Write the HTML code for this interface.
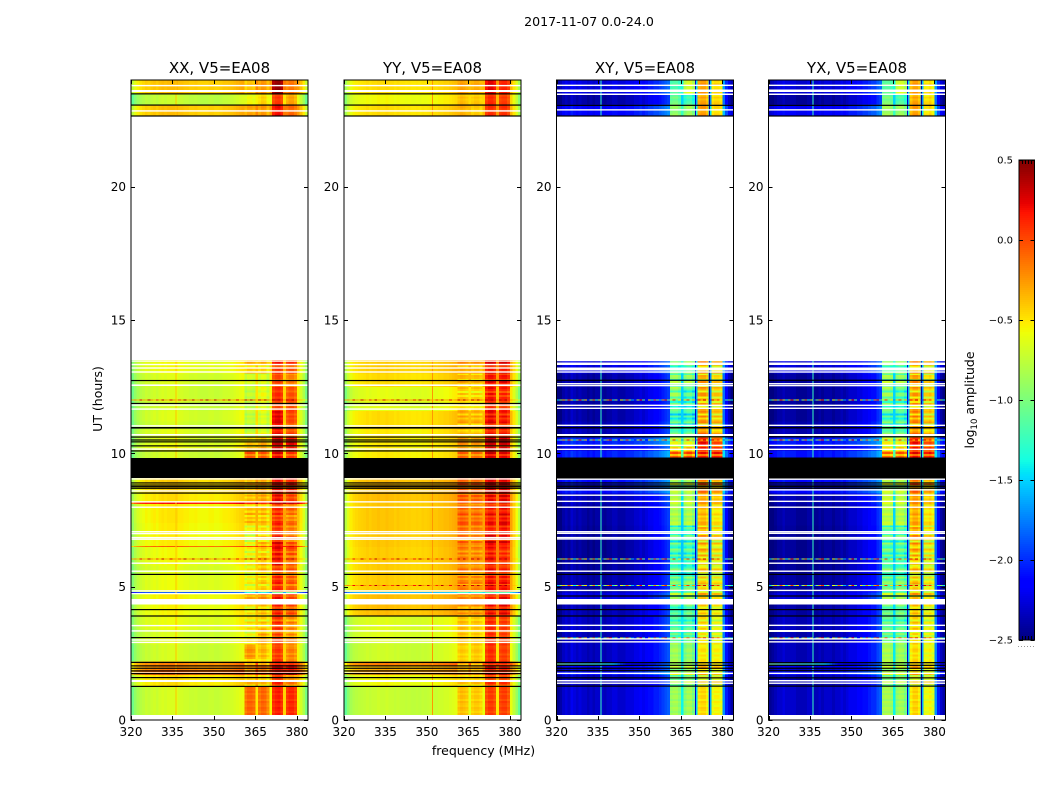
<!DOCTYPE html>
<html>
<head>
<meta charset="utf-8">
<title>2017-11-07 0.0-24.0</title>
<style>
html,body{margin:0;padding:0;background:#fff;}
svg{display:block;}
text{font-family:"DejaVu Sans","Liberation Sans",sans-serif;fill:#000;}
</style>
</head>
<body>
<svg id="chart" width="1050" height="800" viewBox="0 0 1050 800" xmlns="http://www.w3.org/2000/svg">
<rect x="0" y="0" width="1050" height="800" fill="#fff"/>
<text x="589" y="26" font-size="12.6" text-anchor="middle">2017-11-07 0.0-24.0</text>
<text x="483.5" y="755" font-size="12.5" text-anchor="middle">frequency (MHz)</text>
<text transform="translate(102,399) rotate(-90)" font-size="12.5" text-anchor="middle">UT (hours)</text>
<text transform="translate(974,400) rotate(-90)" font-size="12.5" text-anchor="middle">log<tspan dy="3" font-size="8.5">10</tspan><tspan dy="-3"> amplitude</tspan></text>
</svg>
<script>
// Frequency channels (MHz, 1 MHz wide) and axis ticks
const channels = [320,321,322,323,324,325,326,327,328,329,330,331,332,333,334,335,336,337,338,339,340,341,342,343,344,345,346,347,348,349,350,351,352,353,354,355,356,357,358,359,360,361,362,363,364,365,366,367,368,369,370,371,372,373,374,375,376,377,378,379,380,381,382,383];
const freqTicks = [320,335,350,365,380];
const hourTicks = [0,5,10,15,20];
const colorbarTicks = [0.5,0,-0.5,-1,-1.5,-2,-2.5];
// Passbands: first and last channel of each high sub-band
const subBands = [[361,364],[366,369],[371,374],[376,379]];

// Typical spectra, log10 amplitude per channel
const xxSpectrum = [-1.05,-.92,-.84,-.79,-.76,-.72,-.74,-.71,-.69,-.72,-.68,-.66,-.68,-.66,-.66,-.66,-.64,-.68,-.68,-.7,-.7,-.72,-.72,-.71,-.73,-.74,-.74,-.74,-.72,-.72,-.74,-.74,-.72,-.7,-.7,-.69,-.68,-.66,-.64,-.62,-.6,-.15,-.08,-.08,-.12,-.5,-.15,-.08,-.1,-.22,-.55,.08,.14,.16,.08,-.45,.05,.12,.12,.04,-.55,-.68,-.82,-1.02];
const yySpectrum = [-1.1,-.95,-.85,-.8,-.78,-.76,-.75,-.74,-.72,-.74,-.72,-.72,-.7,-.72,-.72,-.7,-.72,-.72,-.74,-.72,-.74,-.74,-.75,-.74,-.76,-.76,-.75,-.76,-.74,-.75,-.74,-.72,-.72,-.72,-.7,-.7,-.68,-.68,-.66,-.64,-.62,-.4,-.36,-.38,-.42,-.62,-.44,-.4,-.4,-.46,-.6,-.02,.05,.05,-.02,-.5,0,.04,.04,-.05,-.6,-.75,-.9,-1.1];
const xySpectrum = [-2.45,-2.4,-2.3,-2.25,-2.3,-2.2,-2.25,-2.3,-2.25,-2.3,-2.3,-2.35,-2.3,-2.35,-2.3,-2.3,-2.3,-2.35,-2.3,-2.3,-2.25,-2.25,-2.3,-2.3,-2.3,-2.25,-2.25,-2.25,-2.2,-2.2,-2.15,-2.2,-2.15,-2.1,-2.1,-2.05,-2.05,-2,-1.95,-1.9,-1.85,-.9,-.85,-.85,-.95,-1.4,-.95,-.85,-.85,-1,-1.5,-.5,-.45,-.45,-.55,-1.6,-.6,-.55,-.55,-.6,-1.7,-2.05,-2.25,-2.4];
const yxSpectrum = [-2.45,-2.4,-2.35,-2.3,-2.3,-2.25,-2.3,-2.3,-2.3,-2.3,-2.35,-2.35,-2.35,-2.35,-2.3,-2.3,-2.35,-2.35,-2.3,-2.35,-2.3,-2.3,-2.3,-2.35,-2.3,-2.3,-2.25,-2.3,-2.25,-2.2,-2.2,-2.2,-2.15,-2.15,-2.1,-2.1,-2.05,-2,-2,-1.9,-1.85,-.88,-.85,-.85,-.92,-1.4,-.92,-.85,-.88,-1,-1.5,-.55,-.45,-.45,-.55,-1.6,-.6,-.6,-.55,-.65,-1.7,-2.05,-2.3,-2.4];

// Time rows: start hour, end hour, level change for the low band, the four high sub-bands, optional fine-variation strength
const xxRows = [[.19,1.26,0,0,0,0,0,.3],[1.26,1.7,.2,-.3,-.3,-.05,-.3],[1.7,1.9,.6,-.1,0,.1,.1],[1.9,2,.45,-.15,0,.15,.1],[2,2.2,.5,-.1,-.05,.12,.12],[2.2,2.3,0,-.4,-.4,-.05,-.3],[2.3,2.85,0,-.15,-.25,-.1,-.3,.5],[2.85,3.1,.05,-.4,-.2,-.1,-.3],[3.1,3.4,.02,-.5,-.2,-.15,-.35],[3.4,3.9,.08,-.45,-.35,-.1,-.35],[3.9,4.35,.12,-.45,-.3,-.05,-.15],[4.54,4.76,.14,-.2,-.1,.05,-.1],[4.76,4.81,-1.2,-1.3,-1.3,-1.2,-1.2],[4.81,5.47,.08,-.5,-.35,-.05,-.2],[5.47,5.8,.05,-.5,-.3,-.15,-.2],[5.8,6.2,.1,-.5,-.3,0,-.25],[6.2,6.5,.1,-.5,-.35,.02,-.15],[6.5,6.54,.6,.1,.1,.1,.1],[6.54,7,.15,-.55,-.3,.05,-.2],[7,7.4,.15,-.45,-.35,-.05,-.25],[7.4,7.8,.17,-.3,-.3,-.1,-.3],[7.8,8.12,.17,-.3,-.25,-.05,-.2],[8.12,8.16,.85,.2,.2,.2,.2],[8.16,8.5,.2,-.3,-.2,.05,-.1],[8.5,9.08,.25,-.3,-.2,.05,0],[9.83,10.1,0,0,0,.05,-.1],[10.1,10.35,.1,-.3,-.2,.1,.05],[10.35,10.6,.05,-.4,-.3,.1,.05],[10.6,10.9,.05,-.6,-.5,.05,-.1],[10.9,11.2,0,-.65,-.55,.1,-.15,.5],[11.2,11.6,.03,-.65,-.55,.1,-.1,.5],[11.6,12,0,-.65,-.5,-.1,-.1,.5],[12,12.5,0,-.65,-.5,-.05,-.15,.5],[12.5,13,.03,-.6,-.55,-.15,-.3,.5],[13,13.5,.1,-.3,-.3,-.05,-.1],[22.65,23.1,.3,-.2,-.15,.05,-.2,.3],[23.1,23.5,-.05,-.5,-.35,-.1,-.4,.3],[23.5,24,.3,-.3,-.15,.3,-.25,.3]];
const yyRows = [[.19,1.26,0,0,0,0,0,.3],[1.26,1.7,.15,-.05,0,0,0],[1.7,1.9,.45,.1,.1,.1,.1],[1.9,2.05,.35,0,.05,.15,.1],[2.05,2.2,.55,.15,.15,.15,.15],[2.2,2.9,.02,-.05,0,.05,0,.4],[2.9,3.9,.08,0,0,.05,0,.4],[3.9,4.35,.35,.1,.15,.1,.15],[4.54,4.76,.35,.2,.25,.1,.2],[4.76,4.81,-.85,-.9,-.9,-1.2,-1.2],[4.81,5.47,.3,.18,.18,.1,.1],[5.47,6.5,.3,.2,.2,.1,.05],[6.5,7,.32,.25,.22,.2,.15],[7,8.14,.32,.3,.28,.1,.15],[8.14,8.5,.35,.32,.32,.15,.2],[8.5,9.08,.35,.3,.3,.2,.2],[9.83,10.1,.2,.25,.25,.2,.15],[10.1,10.6,.2,.1,.1,.2,.2],[10.6,10.9,.2,0,0,.1,.1],[10.9,11.6,.25,.05,.05,.15,.1],[11.6,12.5,.1,-.05,-.05,.1,.05],[12.5,13,.25,0,0,.1,.1],[13,13.5,.3,.1,.1,.15,.15],[22.65,23.1,.25,.05,0,.05,.05,.3],[23.1,23.5,.15,0,0,.05,0,.3],[23.5,24,.25,.1,.1,.2,.1,.3]];
const xyRows = [[.19,1.26,0,0,0,0,0,.2],[1.26,1.7,-.05,-.1,0,-.1,0],[1.7,1.85,.2,.1,.1,0,0],[1.85,2,0,0,.1,.1,.1],[2,2.16,.1,.1,.1,.1,.1],[2.16,2.9,-.03,0,-.05,-.05,0,.3],[2.9,3.4,-.05,-.25,-.2,-.1,-.1,.6],[3.4,3.9,-.03,-.3,-.3,-.05,-.1,.6],[3.9,4.35,-.08,-.3,-.2,0,0,.6],[4.54,4.8,.05,-.05,0,0,0],[4.8,5.47,-.1,-.2,-.15,-.05,-.05],[5.47,6,-.12,-.25,-.3,0,0],[6,6.8,-.14,-.3,-.3,.05,0],[6.8,7.3,-.12,-.25,-.25,.15,.1],[7.3,8.1,-.1,.05,.05,.1,.05,.4],[8.1,8.5,-.05,.1,.1,.15,.15,.4],[8.5,9.08,.2,0,0,.25,.2],[9.83,10.1,.25,.7,.75,.5,.6],[10.1,10.3,.05,.4,.5,.6,.6],[10.3,10.6,.25,.1,.1,.5,.4],[10.6,10.9,-.05,-.2,-.2,.3,.2],[10.9,11.2,-.05,-.3,-.3,.1,.1],[11.2,11.6,-.1,-.4,-.4,.15,.1],[11.6,12,-.1,-.35,-.4,0,0],[12,12.5,-.1,-.1,-.3,.1,.05],[12.5,13,-.1,-.1,-.1,.05,0],[13,13.5,.05,-.2,-.1,.2,.15],[22.65,23.1,.15,-.05,0,.2,.1,.3],[23.1,23.5,-.1,-.2,-.35,.15,.1,.3],[23.5,24,.05,-.3,.2,.2,.1,.3]];
const yxRows = [[.19,1.26,0,.02,0,.02,0,.2],[1.26,1.7,-.05,-.05,0,-.1,0],[1.7,1.85,.2,.1,.1,.05,0],[1.85,2,0,.05,.1,.1,.1],[2,2.16,.1,.1,.1,.15,.1],[2.16,2.9,-.03,.02,0,0,0,.3],[2.9,3.4,-.05,-.2,-.15,-.05,-.05,.6],[3.4,3.9,-.03,-.25,-.25,0,-.05,.6],[3.9,4.35,-.08,-.2,-.15,.05,0,.6],[4.54,4.8,.05,0,0,.05,0],[4.8,5.47,-.1,-.2,-.15,0,-.05],[5.47,6,-.12,-.2,-.25,.05,0],[6,6.8,-.12,-.25,-.25,.1,0],[6.8,7.3,-.12,-.2,-.2,.2,.1],[7.3,8.1,-.1,.08,.08,.15,.08,.4],[8.1,8.5,-.05,.15,.12,.2,.15,.4],[8.5,9.08,.2,.05,.05,.3,.2],[9.83,10.1,.25,.65,.7,.55,.6],[10.1,10.3,.05,.35,.45,.6,.6],[10.3,10.6,.25,.15,.15,.5,.4],[10.6,10.9,-.05,-.15,-.15,.3,.2],[10.9,11.2,-.05,-.25,-.25,.15,.1],[11.2,11.6,-.1,-.35,-.35,.2,.1],[11.6,12,-.1,-.3,-.35,.05,0],[12,12.5,-.1,-.1,-.25,.1,.05],[12.5,13,-.1,-.05,-.1,.1,0],[13,13.5,.05,-.15,-.1,.2,.15],[22.65,23.1,.15,0,0,.2,.1,.3],[23.1,23.5,-.1,-.15,-.3,.15,.1,.3],[23.5,24,.05,-.25,.2,.2,.1,.3]];

// Fine row-to-row variation inside the high sub-bands, repeating every 40 fine rows
const parRipple = [.05,-.1,.08,-.14,.02,.1,-.08,-.02,.12,-.16,.04,.06,-.12,.1,-.05,.02,-.15,.08,.1,-.06,.03,-.12,.12,-.02,-.1,.06,.02,-.16,.1,.04,-.08,.08,-.14,.05,.1,-.04,-.1,.12,-.06,.02];
const crossRipple = [.1,-.2,.15,-.25,.05,.2,-.18,-.04,.22,-.3,.08,.12,-.22,.18,-.1,.05,-.28,.16,.2,-.12,.06,-.24,.22,-.05,-.18,.12,.04,-.3,.2,.08,-.16,.15,-.26,.1,.18,-.08,-.2,.24,-.12,.05];

// Single noisy rows: hours and per-channel values
const parSpotHours = [12,6.04,5.04];
const parSpotValues = [-.3,-.2,-.35,.2,-.25,-.3,.3,-.2,-.35,.1,-.3,.35,-.25,-.3,.25,-.2,-.3,.05,-.25,.35,-.3,-.2,.3,-.3,-.25,.15,-.3,.35,-.2,-.3,.3,-.25,-.3,.1,-.2,.35,-.3,-.25,.2,-.3,-.2,.3,-.1,.35,-.1,-.3,.3,-.1,.35,-.1,-.3,.4,.3,.4,.2,-.2,.35,.2,.4,.1,-.3,-.4,-.5,-.7];
const crossSpotHours = [12,10.5,6.04,5.04,3.08];
const crossSpotValues = [-1.5,-.9,-.4,-1,0,-.6,-1.4,-.8,.1,-1.1,-.5,-2,-.9,-.2,-1.3,-.7,-1.9,-1,-.3,.1,-1.4,-.8,-2.1,-.6,-1.2,-.1,-.9,-1.6,-2,-.7,.2,-1.1,-2.1,-.5,-1.3,-.2,-.9,-1.5,-.3,.1,-1,-.8,.1,-1.2,-.5,-1.7,-.4,.1,-1,-.3,-1.9,.2,-.3,.3,-.5,-2,.3,-.2,.1,-.5,-1.8,-1.2,-.9,-1.4];
const crossLeakHours = [2.1];
const crossLeakValues = [-1,-1,-1,-1.05,-1.05,-1.1,-1.1,-1.1,-1.1,-1.15,-1.15,-1.15,-1.2,-1.2,-1.2,-1.25,-1.25,-1.3,-1.3,-1.35,-1.4,-1.5,-1.7,-1.9,-2,-2.1,-2.1,-2.2,-2.2,-2.2,-2.2,-2.2,-2.15,-2.1,-2.1,-2.1,-2,-2,-1.95,-1.9,-1.85,-.8,-.8,-.8,-.85,-1.6,-.85,-.8,-.8,-1,-2,-.4,-.35,-.35,-.45,-2,-.5,-.45,-.45,-.5,-1.9,-2,-2.2,-2.3];

// Narrow spike column: frequency and amplitude per panel
const xxSpike = [336.1,-.4];
const yySpike = [351.9,-.25];
const xySpike = [335.9,-1.25];
const yxSpike = [335.9,-1.25];
// Narrow dark columns between the cross-hand sub-bands: frequency, amplitude
const crossNotches = [[370.1,-2.3],[375.1,-2.4]];
const parNotches = [];

// Flagged rows: centre hours for thin lines, [start,end] hours for blocks
const parWhiteLines = [13.46,13.33,13.2,13.05,12.56,11.81,11.66,11.03,10.69,10.16,9.04,8.59,8.18,7.98,7.06,6.99,6.84,6.78,5.88,5.58,4.84,4.74,3.54,3.34,3,2.91,1.76,23.79,22.84];
const parWhiteBlocks = [[4.34,4.54],[1.43,1.5],[23.55,23.63],[10.66,10.72],[12.53,12.59]];
const parBlackLines = [12.73,11.87,10.95,10.61,10.5,10.43,10.28,10.09,8.89,8.81,8.75,8.69,8.51,5.46,4.14,3.9,3.09,2.16,2.03,1.94,1.84,1.74,1.59,1.26,23.48,23.06,22.65];
const parBlackBlocks = [[9.08,9.83],[10.93,10.98]];
const crossWhiteLines = [13.48,13.05,12.61,12.54,11.8,11.69,11.05,10.3,10.15,9.03,8.63,8.43,8.2,7.98,7.06,7,6.84,6.79,5.88,5.58,4.86,3.55,3.04,2.93,1.75,1.38,23.8,22.88];
const crossWhiteBlocks = [[4.34,4.54],[1.44,1.5],[3.3,3.38],[13.31,13.41],[13.11,13.21],[10.65,10.73],[23.55,23.65],[23.44,23.5]];
const crossBlackLines = [12.74,10.62,8.89,8.81,8.75,8.69,5.46,4.65,4.14,3.9,2.15,2.05,1.94,1.85,1.58,1.27,23.05,22.65];
const crossBlackBlocks = [[9.06,9.84],[10.93,10.99]];

const svg = document.getElementById('chart');
const NS = 'http://www.w3.org/2000/svg';
const plotTop = 80, plotBottom = 720, plotWidth = 177;
const fineRow = 0.075;
const panels = [
  {name:'xx',title:'XX, V5=EA08',left:131,spectrum:xxSpectrum,rows:xxRows,ripple:parRipple,spike:xxSpike,notches:parNotches,white:parWhiteLines,whiteB:parWhiteBlocks,black:parBlackLines,blackB:parBlackBlocks,spotH:[12,6.04],spotV:parSpotValues,leakH:[],leakV:[]},
  {name:'yy',title:'YY, V5=EA08',left:344,spectrum:yySpectrum,rows:yyRows,ripple:parRipple,spike:yySpike,notches:parNotches,white:parWhiteLines,whiteB:parWhiteBlocks,black:parBlackLines,blackB:parBlackBlocks,spotH:parSpotHours,spotV:parSpotValues,leakH:[],leakV:[]},
  {name:'xy',title:'XY, V5=EA08',left:556.5,spectrum:xySpectrum,rows:xyRows,ripple:crossRipple,spike:xySpike,notches:crossNotches,white:crossWhiteLines,whiteB:crossWhiteBlocks,black:crossBlackLines,blackB:crossBlackBlocks,spotH:crossSpotHours,spotV:crossSpotValues,leakH:crossLeakHours,leakV:crossLeakValues},
  {name:'yx',title:'YX, V5=EA08',left:768.5,spectrum:yxSpectrum,rows:yxRows,ripple:crossRipple,spike:yxSpike,notches:crossNotches,white:crossWhiteLines,whiteB:crossWhiteBlocks,black:crossBlackLines,blackB:crossBlackBlocks,spotH:crossSpotHours,spotV:crossSpotValues,leakH:crossLeakHours,leakV:crossLeakValues}
];

function xScale(p, mhz){ return p.left + (mhz - 320) * plotWidth / 64; }
function yScale(hour){ return plotBottom - hour * (plotBottom - plotTop) / 24; }
function ramp(t, pts){
  for (let i = 1; i < pts.length; i++) {
    if (t <= pts[i][0]) {
      return pts[i-1][1] + (pts[i][1] - pts[i-1][1]) * (t - pts[i-1][0]) / (pts[i][0] - pts[i-1][0]);
    }
  }
  return pts[pts.length-1][1];
}
function jet(v){
  const t = Math.max(0, Math.min(1, (v + 2.5) / 3));
  const r = ramp(t, [[0,0],[.35,0],[.66,1],[.89,1],[1,.5]]);
  const g = ramp(t, [[0,0],[.125,0],[.375,1],[.64,1],[.91,0],[1,0]]);
  const b = ramp(t, [[0,.5],[.11,1],[.34,1],[.65,0],[1,0]]);
  return 'rgb(' + Math.round(r*255) + ',' + Math.round(g*255) + ',' + Math.round(b*255) + ')';
}
function makeRect(parent, x, y, w, h, fill, smooth){
  const el = document.createElementNS(NS, 'rect');
  el.setAttribute('x', x);
  el.setAttribute('y', y);
  el.setAttribute('width', w);
  el.setAttribute('height', h);
  el.setAttribute('fill', fill);
  if (!smooth) el.setAttribute('shape-rendering', 'crispEdges');
  parent.appendChild(el);
  return el;
}
function makeLine(parent, x1, y1, x2, y2, color){
  const el = document.createElementNS(NS, 'line');
  el.setAttribute('x1', x1);
  el.setAttribute('y1', y1);
  el.setAttribute('x2', x2);
  el.setAttribute('y2', y2);
  el.setAttribute('stroke', color);
  el.setAttribute('stroke-width', '1');
  parent.appendChild(el);
  return el;
}
function makeText(parent, x, y, size, anchor, str){
  const el = document.createElementNS(NS, 'text');
  el.setAttribute('x', x);
  el.setAttribute('y', y);
  el.setAttribute('font-size', size);
  el.setAttribute('text-anchor', anchor);
  el.textContent = str;
  parent.appendChild(el);
  return el;
}
function bandIndex(mhz){
  for (let b = 0; b < subBands.length; b++) {
    if (mhz >= subBands[b][0] && mhz <= subBands[b][1]) return b + 1;
  }
  return 0;
}
function drawSingleRows(p, g, hours, values, name){
  const cw = plotWidth / 64 + 0.4;
  hours.forEach(function(h){
    channels.forEach(function(c, i){
      const cell = makeRect(g, xScale(p, c), yScale(h) - 0.5, cw, 1, jet(values[i]));
      
      
    });
  });
}

panels.forEach(function(p){
  const g = document.createElementNS(NS, 'g');
  
  
  svg.appendChild(g);

  const cw = plotWidth / 64 + 0.4;
  p.rows.forEach(function(row){
    const y0 = yScale(row[1]);
    const y1 = yScale(row[0]);
    const strength = row.length > 7 ? row[7] : 1;
    channels.forEach(function(c, i){
      const band = bandIndex(c);
      const v = p.spectrum[i] + row[2 + band];
      if (band === 0 || row[1] - row[0] < fineRow * 1.5) {
        const cell = makeRect(g, xScale(p, c), y0, cw, y1 - y0 + 0.3, jet(v));
        
        
      } else {
        for (let h = row[0]; h < row[1]; h += fineRow) {
          const top = Math.min(h + fineRow, row[1]);
          const k = Math.floor(h / fineRow) % p.ripple.length;
          const cell = makeRect(g, xScale(p, c), yScale(top), cw, yScale(h) - yScale(top) + 0.3, jet(v + p.ripple[k] * strength));
          
          
        }
      }
    });
    const sp = makeRect(g, xScale(p, p.spike[0]), y0, 1, y1 - y0 + 0.3, jet(p.spike[1]));
    
    
    p.notches.forEach(function(n){
      const nt = makeRect(g, xScale(p, n[0]), y0, 1, y1 - y0 + 0.3, jet(n[1]));
      
      
    });
  });

  drawSingleRows(p, g, p.spotH, p.spotV, 'noisy-row-cell');
  drawSingleRows(p, g, p.leakH, p.leakV, 'leak-row-cell');

  p.whiteB.forEach(function(b){
    const el = makeRect(g, p.left, yScale(b[1]), plotWidth, yScale(b[0]) - yScale(b[1]), '#fff');
    
    
  });
  p.white.forEach(function(h){
    const el = makeRect(g, p.left, yScale(h) - 0.7, plotWidth, 1.4, '#fff', true);
    
    
  });
  p.blackB.forEach(function(b){
    const el = makeRect(g, p.left, yScale(b[1]), plotWidth, yScale(b[0]) - yScale(b[1]), '#000');
    
    
  });
  p.black.forEach(function(h){
    const el = makeRect(g, p.left, yScale(h) - 0.6, plotWidth, 1.2, '#000', true);
    
    
  });

  const frame = document.createElementNS(NS, 'rect');
  frame.setAttribute('x', p.left);
  frame.setAttribute('y', plotTop);
  frame.setAttribute('width', plotWidth);
  frame.setAttribute('height', plotBottom - plotTop);
  frame.setAttribute('fill', 'none');
  frame.setAttribute('stroke', '#000');
  frame.setAttribute('stroke-width', '1');
  
  
  g.appendChild(frame);

  freqTicks.forEach(function(f){
    const x = Math.round(xScale(p, f)) + 0.5;
    const t1 = makeLine(g, x, plotBottom, x, plotBottom - 4, '#000');
    
    
    const t2 = makeLine(g, x, plotTop, x, plotTop + 4, '#000');
    
    
    const lab = makeText(g, xScale(p, f), 736, 12, 'middle', String(f));
    
    
  });
  hourTicks.forEach(function(h){
    const y = Math.round(yScale(h)) + 0.5;
    const t1 = makeLine(g, p.left, y, p.left + 4, y, '#000');
    
    
    const t2 = makeLine(g, p.left + plotWidth, y, p.left + plotWidth - 4, y, '#000');
    
    
    const lab = makeText(g, p.left - 5, yScale(h) + 4.5, 12, 'end', String(h));
    
    
  });
  const ttl = makeText(g, p.left + plotWidth / 2, 73, 15, 'middle', p.title);
  
  
});

// Colorbar
const cbLeft = 1019, cbRight = 1034.5, cbTop = 160, cbBottom = 640;
function cbScale(v){ return cbBottom - (v + 2.5) * (cbBottom - cbTop) / 3; }
const cb = document.createElementNS(NS, 'g');


svg.appendChild(cb);
for (let y = cbTop; y < cbBottom; y += 2) {
  const v = 0.5 - (y + 1 - cbTop) * 3 / (cbBottom - cbTop);
  const step = makeRect(cb, cbLeft, y, cbRight - cbLeft, 2.3, jet(v));
  
  
}
const cbFrame = document.createElementNS(NS, 'rect');
cbFrame.setAttribute('x', cbLeft);
cbFrame.setAttribute('y', cbTop);
cbFrame.setAttribute('width', cbRight - cbLeft);
cbFrame.setAttribute('height', cbBottom - cbTop);
cbFrame.setAttribute('fill', 'none');
cbFrame.setAttribute('stroke', '#000');
cbFrame.setAttribute('stroke-width', '1');


cb.appendChild(cbFrame);
colorbarTicks.forEach(function(v){
  const y = Math.round(cbScale(v)) + 0.5;
  const t1 = makeLine(cb, cbLeft, y, cbLeft + 4, y, '#000');
  
  
  const t2 = makeLine(cb, cbRight, y, cbRight - 4, y, '#000');
  
  
  const str = v.toFixed(1).replace('-', '\u2212');
  const lab = makeText(cb, 1013, cbScale(v) + 3.5, 10, 'end', str);
  
  
});
[1,2,3,4].forEach(function(k){
  const x = Math.round(cbLeft + k * 3) + 0.5;
  const t1 = makeLine(cb, x, cbTop, x, cbTop + 4, '#000');
  
  
  const t2 = makeLine(cb, x, cbBottom, x, cbBottom - 4, '#000');
  
  
});
[0,1,2,3,4,5].forEach(function(k){
  const d = makeRect(cb, 1018 + k * 3, 646, 1, 1, '#999');
  
  
});
</script>
</body>
</html>
